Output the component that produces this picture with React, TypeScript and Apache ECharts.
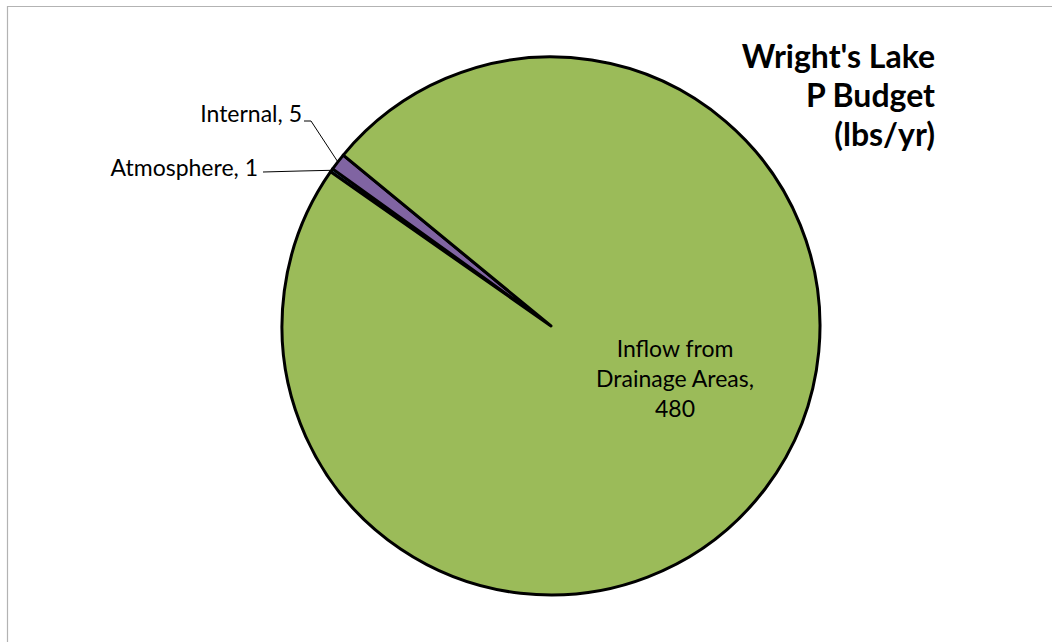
import React, { useEffect, useRef } from "react";
import * as echarts from "echarts";

// Phosphorus budget sources (lbs/yr)
const sourceNames = ["Atmosphere", "Internal", "Inflow from Drainage Areas"];
const sourceValues = [1, 5, 480];
const sourceColors = ["#4F81BD", "#8064A2", "#9BBB59"];
const titleLines = ["Wright's Lake", "P Budget", "(lbs/yr)"];

const FONT = "Lato, 'Open Sans', sans-serif";

export default function App() {
  const ref = useRef<HTMLDivElement>(null);

  useEffect(() => {
    if (!ref.current) return;
    const chart = echarts.init(ref.current, undefined, { renderer: "svg" });

    const data = sourceNames.map((name, i) => {
      const item: any = {
        name,
        value: sourceValues[i],
        itemStyle: { color: sourceColors[i] },
      };
      if (i === 2) {
        item.label = {
          position: "inside",
          formatter: "Inflow from\nDrainage Areas,\n{c}",
          align: "center",
          lineHeight: 30,
        };
        item.labelLine = { show: false };
      }
      return item;
    });

    chart.setOption({
      animation: false,
      backgroundColor: "#ffffff",
      graphic: [
        {
          type: "rect",
          shape: { x: 7.5, y: 6.5, width: 1100, height: 700 },
          style: { fill: "none", stroke: "#b3b3b3", lineWidth: 1.2 },
          silent: true,
        },
        {
          type: "text",
          x: 935,
          y: 36,
          style: {
            text: titleLines.join("\n"),
            fill: "#000000",
            font: `bold 32px ${FONT}`,
            align: "right",
            textAlign: "right",
            verticalAlign: "top",
            lineHeight: 39,
          },
          silent: true,
        },
      ],
      series: [
        {
          type: "pie",
          center: [551, 326],
          radius: 269,
          startAngle: 145,
          clockwise: true,
          silent: true,
          avoidLabelOverlap: false,
          itemStyle: { borderColor: "#000000", borderWidth: 3 },
          label: {
            show: true,
            position: "outside",
            formatter: "{b}, {c}",
            color: "#000000",
            fontFamily: FONT,
            fontSize: 23,
          },
          labelLine: {
            show: true,
            length: 20,
            length2: 10,
            lineStyle: { color: "#000000", width: 1 },
          },
          labelLayout: (params: any) => {
            const start = params.labelLinePoints
              ? params.labelLinePoints[0]
              : null;
            if (params.dataIndex === 0) {
              return {
                x: 258,
                y: 167,
                align: "right",
                verticalAlign: "middle",
                labelLinePoints: start
                  ? [start, [300, 171], [263, 172]]
                  : undefined,
              };
            }
            if (params.dataIndex === 1) {
              return {
                x: 302,
                y: 113,
                align: "right",
                verticalAlign: "middle",
                labelLinePoints: start
                  ? [start, [311, 121], [304, 121]]
                  : undefined,
              };
            }
            return {
              x: 675,
              y: 378,
              align: "center",
              verticalAlign: "middle",
            };
          },
          data,
        },
      ],
    });

    return () => chart.dispose();
  }, []);

  return (
    <div
      ref={ref}
      style={{ position: "fixed", left: 0, top: 0, width: 1052, height: 642 }}
    />
  );
}
